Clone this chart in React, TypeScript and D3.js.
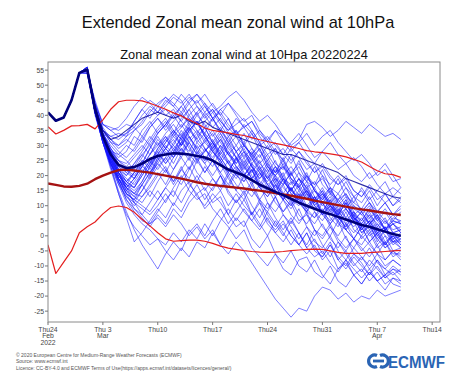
import React from 'react';
import * as d3 from 'd3';

// days since Thu 24 Feb 2022
const sharedStart = [41, 38.2, 39.3, 45, 54.1]; // d0..d4, common to all members

// ensemble members, daily values d5..d45
const members: number[][] = [
  [55,45,37,36,35, 37,36,40,43,41, 45,43,40,44,47, 44,41,43,46,48, 45,41,38,40,37, 33,30,32,37,38, 36,33,35,38,36, 34,37,35,33,34, 32],
  [55,44,37,35,36, 39,43,46,44,41, 44,47,45,40,37, 40,42,38,35,37, 39,35,31,33,30, 27,31,34,30,26, 28,31,27,24,26, 23,19,21,24,20, 16],
  [56,43,35,33,32, 34,38,42,39,43, 46,44,41,45,47, 43,39,42,44,40, 36,38,34,31,35, 33,29,31,34,30, 33,35,31,28,25, 27,24,20,22,18, 19],
  [55,44,36,32,29, 31,35,38,42,40, 43,46,44,47,43, 39,42,38,35,39, 36,32,35,31,27, 29,25,28,24,21, 24,20,17,19,15, 13,16,12,14,10, 12],
  [54,42,34,29,26, 28,33,31,36,39, 36,40,43,39,37, 41,44,40,36,33, 37,34,30,32,28, 25,29,26,22,24, 20,17,20,16,13, 15,11,8,11,7, 9],
  [55,43,35,31,30, 32,30,35,38,34, 37,41,38,42,45, 41,38,42,39,34, 31,35,31,27,29, 25,21,24,20,17, 19,15,12,14,10, 8,11,7,4,7, 4],
  [55,42,33,28,27, 30,28,32,36,39, 35,38,41,37,34, 38,41,37,33,35, 30,27,30,26,21, 23,19,15,18,13, 10,13,8,5,8, 4,1,3,-2,0, -3],
  [55,41,34,32,30, 33,38,42,45,43, 40,42,38,35,38, 34,31,35,32,28, 30,27,24,27,23, 20,23,19,16,18, 14,11,14,10,7, 9,6,8,5,2, 3],
  [55,43,35,33,34, 33,35,37,41,44, 46,43,47,44,40, 43,39,41,37,34, 36,38,33,29,31, 27,24,28,25,21, 23,19,17,20,15, 13,17,14,11,13, 11],
  [55,44,37,35,33, 34,36,33,37,40, 42,39,43,46,44, 47,43,40,44,41, 38,40,35,32,35, 31,28,31,27,24, 28,25,22,24,20, 18,21,17,14,16, 14],
  [55,42,33,27,22, 20,23,27,30,26, 29,33,30,35,38, 33,30,34,29,26, 29,24,27,22,20, 23,18,16,20,15, 12,15,10,13,8, 5,9,6,2,4, 1],
  [55,41,32,25,20, 17,21,25,23,28, 32,29,26,31,34, 29,26,30,27,23, 20,24,21,17,19, 16,13,17,13,9, 11,7,10,6,3, 6,2,4,0,-2, -2],
  [54,42,33,28,23, 20,24,27,24,29, 33,30,27,32,35, 31,28,32,28,24, 27,23,19,23,20, 17,21,16,12,15, 11,8,12,9,5, 8,4,6,2,4, 1],
  [55,43,34,29,24, 22,19,23,27,31, 27,30,35,31,27, 32,28,25,30,26, 22,26,21,18,22, 18,15,19,14,11, 14,10,7,11,6, 3,7,4,1,4, 2],
  [55,41,31,24,19, 16,19,23,21,26, 30,27,33,30,25, 28,31,26,22,25, 28,23,19,22,17, 14,18,13,15,10, 13,8,5,9,6, 3,6,1,3,-1, 0],
  [56,42,32,26,21, 18,16,20,24,27, 31,34,30,35,38, 33,29,33,27,25, 30,26,22,25,19, 17,21,16,12,16, 11,14,9,6,10, 7,4,7,2,5, 4],
  [55,43,34,28,22, 19,17,21,25,22, 26,31,34,29,25, 28,31,26,22,19, 23,19,16,20,15, 12,16,12,9,13, 8,5,9,4,1, 4,0,2,-3,0, -1],
  [55,42,32,26,20, 17,15,18,23,27, 24,27,31,35,32, 36,31,28,33,28, 24,28,23,19,23, 19,15,19,16,12, 15,10,8,12,7, 5,9,5,2,6, 5],
  [54,41,33,28,25, 24,27,30,27,32, 29,34,37,33,29, 31,34,29,25,22, 26,21,25,19,16, 20,15,12,15,11, 8,12,7,9,5, 2,5,1,3,-2, -1],
  [55,42,31,24,19, 15,13,17,21,25, 29,32,28,33,29, 25,29,24,21,26, 21,17,21,16,14, 19,14,11,15,10, 7,11,6,3,7, 2,5,0,-3,1, -2],
  [55,43,35,31,28, 26,29,33,30,34, 37,33,36,39,35, 32,35,31,27,30, 26,29,24,21,25, 19,17,21,15,12, 16,11,8,12,6, 4,7,2,5,1, 2],
  [55,41,32,25,21, 18,21,25,22,27, 25,29,32,27,24, 29,25,21,25,20, 18,22,16,13,17, 12,16,11,8,12, 7,10,5,2,6, 1,3,-1,-4,-2, -4],
  [55,42,33,26,21, 16,14,18,23,27, 31,35,32,36,40, 37,33,36,31,28, 31,26,29,23,21, 25,19,17,21,15, 13,16,11,14,9, 7,10,5,8,4, 5],
  [56,43,33,28,25, 23,26,29,33,30, 34,37,33,38,41, 36,39,34,30,33, 28,25,29,23,20, 24,19,16,20,15, 12,16,11,9,13, 8,11,6,9,5, 8],
  [55,42,32,24,18, 14,12,15,20,24, 21,26,29,25,30, 26,23,28,24,20, 24,19,22,17,13, 17,12,10,14,8, 5,9,4,2,5, -1,2,-3,0,-5, -4],
  [55,41,31,23,17, 13,11,15,19,23, 26,22,27,31,27, 24,28,25,20,23, 19,22,17,14,18, 13,10,14,9,6, 9,4,7,2,-1, 3,-2,1,-4,-1, -4],
  [55,43,34,29,25, 22,20,24,29,33, 29,26,31,28,33, 36,31,27,31,26, 23,27,22,19,23, 18,15,19,14,11, 15,10,7,11,6, 4,8,3,6,1, 2],
  [54,42,33,27,21, 17,16,21,25,28, 24,28,33,36,31, 28,32,27,24,28, 23,19,23,17,15, 19,14,12,16,10, 8,12,6,4,8, 2,5,0,3,-1, 1],
  [55,42,32,25,19, 16,19,23,27,30, 33,28,31,36,32, 29,25,30,24,21, 25,20,17,21,15, 12,16,11,8,13, 7,4,8,2,-1, 3,-2,1,-3,0, -3],
  [55,43,34,28,22, 18,16,20,24,29, 32,35,30,34,38, 33,29,32,27,24, 28,23,20,24,18, 21,15,13,17,11, 14,9,7,11,5, 8,4,7,2,5, 4],
  [55,42,33,26,20, 16,14,17,21,24, 28,24,29,26,31, 34,28,24,28,23, 20,24,18,16,20, 14,11,15,10,13, 7,10,6,3,7, 1,4,-1,2,-3, -1],
  [55,41,31,24,19, 15,18,22,19,25, 29,26,30,33,28, 25,30,25,21,26, 20,23,17,15,19, 13,10,14,8,6, 11,6,3,8,2, 0,4,-2,2,-2, 0],
  [56,43,34,30,27, 25,22,26,31,35, 38,34,39,42,37, 34,39,35,31,35, 30,27,31,24,21, 26,20,23,18,16, 20,14,12,16,11, 9,13,8,11,7, 10],
  [55,42,32,27,23, 21,24,28,32,36, 39,35,32,37,41, 44,39,35,39,33, 30,34,28,25,29, 23,20,25,19,17, 22,16,14,18,13, 11,15,10,14,10, 13],
  [55,42,33,28,24, 21,19,24,29,34, 37,40,36,40,43, 40,36,39,34,30, 34,29,26,30,24, 22,27,21,18,23, 17,14,19,13,11, 16,12,15,18,13, 16],
  [55,40,31,23,15, 8,2,-3,-7,-11, -6,-2,-5,1,4, 0,5,9,4,8, 12,7,3,8,4, 0,5,1,-4,-1, -6,-2,-8,-5,-9, -12,-8,-11,-14,-12, -15],
  [55,41,32,23,14, 6,-2,1,5,9, 6,11,8,13,17, 12,16,20,15,11, 15,10,6,11,6, 2,6,1,-3,2, -3,-7,-2,-6,-10, -7,-11,-8,-13,-10, -12],
  [55,42,33,27,21, 16,11,7,4,6, 3,7,4,0,3, -1,2,-3,-6,-2, -5,-9,-13,-17,-21, -24,-27,-24,-25,-20, -17,-18,-21,-19,-22, -20,-21,-18,-20,-19, -18],
  [55,41,31,22,14, 7,3,0,-3,-1, -5,-8,-4,-7,-2, -4,1,-3,2,6, 3,8,4,0,5, 1,-3,1,-4,-7, -5,-9,-12,-8,-11, -14,-11,-15,-13,-16, -17],
  [55,42,32,24,17, 11,7,4,2,-1, -3,1,-2,2,-1, 4,0,5,9,5, 9,5,2,6,1, -2,2,-3,-6,-3, -8,-5,-11,-8,-13, -16,-12,-15,-18,-14, -16],
  [55,41,32,26,19, 14,9,6,3,7, 4,9,6,11,14, 9,12,15,10,14, 10,7,12,7,3, 7,3,-1,3,-2, -4,0,-5,-8,-4, -7,-10,-6,-10,-8, -10],
  [55,42,33,27,21, 15,11,9,7,10, 14,10,15,18,13, 10,14,11,7,12, 8,5,9,4,1, 4,0,-3,1,-4, -7,-3,-7,-10,-6, -9,-13,-10,-14,-11, -13],
  [56,42,32,25,18, 12,8,5,4,8, 12,15,11,16,20, 15,19,16,21,17, 14,18,12,9,13, 8,11,5,7,2, -1,3,-2,-5,-1, -4,-7,-3,-8,-5, -7],
  [55,41,31,24,18, 13,10,13,16,20, 23,18,22,19,25, 21,25,20,16,21, 16,13,17,11,8, 12,7,4,8,2, 0,4,-1,-4,-1, -5,-2,-6,-8,-5, -8],
  [55,42,32,26,20, 16,13,11,15,12, 16,20,17,22,26, 21,25,21,17,22, 18,22,16,13,17, 12,9,13,7,4, 8,3,0,4,-1, -3,1,-4,-2,-6, -6],
  [55,41,33,27,21, 17,14,13,17,21, 17,22,26,22,28, 24,20,24,19,15, 20,15,12,16,11, 8,12,7,4,8, 3,0,5,-1,-4, 0,-3,-6,-2,-7, -5],
  [55,42,33,25,19, 14,12,10,8,12, 16,13,19,23,18, 23,19,15,20,15, 12,17,11,8,13, 7,4,9,3,0, 4,-1,-4,0,-6, -8,-4,-9,-11,-8, -10],
  [55,41,32,24,18, 12,9,7,11,15, 11,16,20,15,12, 14,9,6,3,-1, 2,-4,-7,-10,-6, -11,-13,-8,-7,-12, -14,-10,-15,-17,-13, -11,-15,-12,-16,-14, -15],
  [55,42,33,27,22, 18,21,24,20,26, 22,18,23,17,14, 16,11,13,7,3, 5,-1,-4,0,-6, -9,-5,-10,-12,-8, -13,-16,-11,-9,-13, -16,-12,-15,-13,-11, -12],
  [55,42,32,25,19, 14,12,17,13,18, 22,17,22,26,21, 18,15,20,14,11, 14,7,11,5,2, 5,0,-3,1,-5, -7,-3,-8,-11,-7, -10,-13,-8,-11,-13, -11],
];

// control forecast d5..d45
const control = [55,43,35,32,33, 35,37,39,40,41, 40,39,40,38,37, 38,36,35,34,33, 32,31,30,29,28, 27,27,26,25,24, 23,22,21,19,18, 17,16,15,14,13, 12.5];

// ensemble mean d0..d45
const ensMean = [41,38.2,39.3,45,54.1, 55.2,42,33,27,23.5, 22.5,22.8,24,25.5,26.5, 27,27.4,27.3,27,26.5, 26,25,23.5,22,21, 20,18.5,17,15.8,14.6, 13.5,12.3,11,10,9, 8,7.2,6.3,5.4,4.5, 3.6,3,2.2,1.4,0.6, 0];

// climate mean, upper and lower bounds d0..d45
const climMean = [17.4,16.9,16.4,16.3,16.6, 17.3,18.8,20,21,21.8, 22,21.7,21.3,21,20.5, 20,19.5,19,18.4,17.8, 17.3,16.9,16.6,16.3,16, 15.7,15.3,15,14.6,14.2, 13.7,13.3,12.8,12.3,11.7, 11.2,10.7,10.2,9.7,9.2, 8.8,8.4,8,7.6,7.2, 6.9];
const climMax = [36.2,33.8,35,36.5,36.6, 37,35.5,38.5,42,44.5, 45,45,44.8,44,43, 42,40.8,39.8,38.5,37.3, 35.8,35,34.6,34.2,33.7, 33.3,32.6,31.9,31.3,30.7, 30.2,29.6,29,28.3,27.9, 27.6,27.2,26.8,26.2,25.4, 24.5,23,21.6,20.6,20.3, 19.4];
const climMin = [-3,-12.5,-8.7,-5,1, 3,4.6,7.3,9.4,9.9, 9.4,7.8,5.5,3.3,1, -1,-1.8,-1.6,-1.4,-1.4, -1.8,-2.5,-3.4,-4.1,-4.5, -4.9,-5.2,-5.4,-5.5,-5.4, -5.2,-4.9,-4.7,-4.5,-4.4, -4.5,-5,-5.5,-5.8,-5.8, -5.8,-5.6,-5.4,-5.2,-5, -4.8];

const yTicks = [-25,-20,-15,-10,-5,0,5,10,15,20,25,30,35,40,45,50,55];
const xTickDays = [0,7,14,21,28,35,42,49];
const xTickLine1 = ['Thu24','Thu 3','Thu10','Thu17','Thu24','Thu31','Thu 7','Thu14'];
const xTickLine2 = ['Feb','Mar','','','','','Apr',''];
const xTickLine3 = ['2022','','','','','','',''];

const footerLines = [
  '\u00A9 2020 European Centre for Medium-Range Weather Forecasts (ECMWF)',
  'Source: www.ecmwf.int',
  'Licence: CC-BY-4.0 and ECMWF Terms of Use(https://apps.ecmwf.int/datasets/licences/general/)',
];

const FONT = '"Liberation Sans", Arial, Helvetica, sans-serif';

export default function App() {
  const left = 48, right = 440, top = 62, bottom = 322;
  const x = d3.scaleLinear().domain([0, 50]).range([left, right]);
  const y = d3.scaleLinear().domain([-28.6, 57.7]).range([bottom, top]);
  const line = d3.line<[number, number]>().x(d => x(d[0])).y(d => y(d[1]));
  const series = (vals: number[], start: number) => vals.map((v, i) => [start + i, v] as [number, number]);
  const withStart = (vals: number[]) => [...series(sharedStart, 0), ...series(vals, 5)];

  return (
    <svg width={474} height={377} style={{ position: 'absolute', left: 0, top: 0, background: '#fff' }} fontFamily={FONT}>
      <defs>
        <clipPath id="plotclip">
          <rect x={left} y={top} width={right - left} height={bottom - top} />
        </clipPath>
      </defs>
      <rect x={0} y={0} width={474} height={377} fill="#fff" />
      <text x={238} y={28} textAnchor="middle" fontSize={16.4} fill="#111">Extended Zonal mean zonal wind at 10hPa</text>
      <text x={244} y={59} textAnchor="middle" fontSize={12.8} fill="#111">Zonal mean zonal wind at 10Hpa 20220224</text>

      <g clipPath="url(#plotclip)" fill="none" strokeLinejoin="round">
        {members.map((m, i) => (
          <path key={i} d={line(withStart(m)) || ''} stroke="#1616ff" strokeOpacity={0.62} strokeWidth={0.9} />
        ))}
        <path d={line(withStart(control)) || ''} stroke="#0a0a9a" strokeWidth={1.1} strokeOpacity={0.85} />
        <path d={line(series(climMax, 0)) || ''} stroke="#e41e1e" strokeWidth={1.2} />
        <path d={line(series(climMin, 0)) || ''} stroke="#e41e1e" strokeWidth={1.2} />
        <path d={line(series(climMean, 0)) || ''} stroke="#a51212" strokeWidth={2.4} />
        <path d={line(series(ensMean, 0)) || ''} stroke="#00007a" strokeWidth={2.6} />
      </g>

      <rect x={left} y={top} width={right - left} height={bottom - top} fill="none" stroke="#8a8a8a" strokeWidth={1} />

      {yTicks.map(t => (
        <g key={t}>
          <line x1={left - 3} x2={left} y1={y(t)} y2={y(t)} stroke="#777" />
          <text x={left - 4} y={y(t) + 2.4} textAnchor="end" fontSize={6.8} fill="#444">{t}</text>
        </g>
      ))}
      {xTickDays.map((d, i) => (
        <g key={d}>
          <line x1={x(d)} x2={x(d)} y1={bottom} y2={bottom + 3} stroke="#777" />
          <text x={x(d)} y={bottom + 9.5} textAnchor="middle" fontSize={6.8} fill="#444">{xTickLine1[i]}</text>
          {xTickLine2[i] && <text x={x(d)} y={bottom + 16} textAnchor="middle" fontSize={6.8} fill="#444">{xTickLine2[i]}</text>}
          {xTickLine3[i] && <text x={x(d)} y={bottom + 22.5} textAnchor="middle" fontSize={6.8} fill="#444">{xTickLine3[i]}</text>}
        </g>
      ))}

      {footerLines.map((t, i) => (
        <text key={i} x={16} y={357 + i * 6.3} fontSize={5} fill="#555">{t}</text>
      ))}

      <g>
        <path d="M377,355.5 A6,6 0 1,0 377,366.5" fill="none" stroke="#2a64b4" strokeWidth={3.2} />
        <path d="M380,355.5 A6,6 0 1,1 380,366.5" fill="none" stroke="#2a64b4" strokeWidth={3.2} />
        <rect x={373} y={359.6} width={11} height={2.8} fill="#2a64b4" />
        <text x={388} y={367.5} fontSize={16} fontWeight="bold" fill="#2a64b4" textLength={57} lengthAdjust="spacingAndGlyphs">ECMWF</text>
      </g>
    </svg>
  );
}
